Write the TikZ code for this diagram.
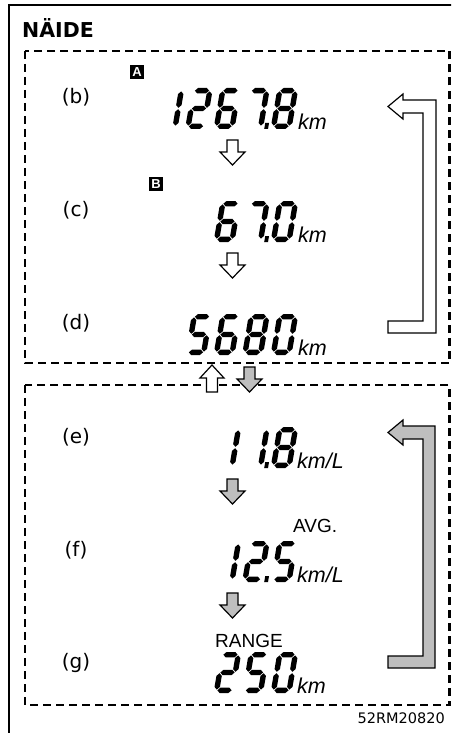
\documentclass[tikz,border=0pt]{standalone}
\usepackage{fontspec}
\setmainfont{DejaVu Sans}
\newfontfamily\arialf{Liberation Sans}
\definecolor{arrgray}{RGB}{190,190,190}
% seven-segment pieces, local coords: u right, v up, origin bottom-left of cell
\newcommand\lcdsega{\fill (3.4,38.3) -- (6.1,41) -- (14.9,41) -- (17.6,38.3) -- (14.9,35.6) -- (6.1,35.6) -- cycle;}
\newcommand\lcdsegd{\fill (3.4,2.7) -- (6.1,5.4) -- (14.9,5.4) -- (17.6,2.7) -- (14.9,0) -- (6.1,0) -- cycle;}
\newcommand\lcdsegg{\fill (3.4,20.5) -- (6.1,23.2) -- (14.9,23.2) -- (17.6,20.5) -- (14.9,17.8) -- (6.1,17.8) -- cycle;}
\newcommand\lcdsegb{\fill (18.3,21.2) -- (21,23.9) -- (21,34.9) -- (18.3,37.6) -- (15.6,34.9) -- (15.6,23.9) -- cycle;}
\newcommand\lcdsegc{\fill (18.3,3.4) -- (21,6.1) -- (21,17.1) -- (18.3,19.8) -- (15.6,17.1) -- (15.6,6.1) -- cycle;}
\newcommand\lcdsege{\fill (2.7,3.4) -- (5.4,6.1) -- (5.4,17.1) -- (2.7,19.8) -- (0,17.1) -- (0,6.1) -- cycle;}
\newcommand\lcdsegf{\fill (2.7,21.2) -- (5.4,23.9) -- (5.4,34.9) -- (2.7,37.6) -- (0,34.9) -- (0,23.9) -- cycle;}
\newcommand\lcdsegp{\fill (-6.3,0) -- (-2.5,0) -- (-2.5,6) -- (-6.3,6) -- cycle;}
\newcommand\lcddigit[3]{\begin{scope}[shift={(#1,#2)},xslant=0.17,yscale=-1]\foreach \s in {#3}{\csname lcdseg\s\endcsname}\end{scope}}
\newcommand\darrowshape[3]{\draw[#1] ({#2-5.5},#3) -- ({#2+5.5},#3) -- ({#2+5.5},{#3+12}) -- ({#2+12.5},{#3+12}) -- (#2,{#3+25}) -- ({#2-12.5},{#3+12}) -- ({#2-5.5},{#3+12}) -- cycle;}
\newcommand\uarrowshape[3]{\draw[#1] (#2,#3) -- ({#2+12},{#3+13}) -- ({#2+5.5},{#3+13}) -- ({#2+5.5},{#3+27}) -- ({#2-5.5},{#3+27}) -- ({#2-5.5},{#3+13}) -- ({#2-12},{#3+13}) -- cycle;}
\begin{document}
\begin{tikzpicture}[x=1pt,y=-1pt,
  dashbox/.style={line width=2.2pt,dash pattern=on 8pt off 5pt},
  warr/.style={draw=black,line width=1.2pt,fill=white,line join=miter},
  garr/.style={draw=black,line width=1.2pt,fill=arrgray,line join=miter},
  lbl/.style={inner sep=0pt,font=\fontsize{20}{24}\selectfont},
  unittext/.style={inner sep=0pt,anchor=base west,font=\arialf\itshape\fontsize{21.5}{24}\selectfont},
  captext/.style={inner sep=0pt,anchor=base west,font=\arialf\fontsize{19}{22}\selectfont},
  badgetext/.style={text=white,inner sep=0pt,font=\arialf\bfseries\fontsize{13}{14}\selectfont}]
\useasboundingbox (0,0) rectangle (451,733);
\clip (0,0) rectangle (451,733);
% outer frame
\draw[line width=2.4pt] (9,760) -- (9,5) -- (470,5);
\node[inner sep=0pt,anchor=base west,font=\bfseries\fontsize{20.5}{24}\selectfont] (title) at (22,38) {NÄIDE};
% dashed boxes
\draw[dashbox] (25,51) rectangle (449.5,363);
\draw[dashbox] (25,385) rectangle (449.5,705);
% labels
\node[lbl] (lb) at (76,97.5) {(b)};
\node[lbl] (lc) at (76,210.5) {(c)};
\node[lbl] (ld) at (76,323.5) {(d)};
\node[lbl] (le) at (76,437) {(e)};
\node[lbl] (lf) at (76,550) {(f)};
\node[lbl] (lg) at (76,663) {(g)};
\fill (130,65) rectangle (144,79);
\node[badgetext] (bA) at (137,72) {A};
\fill (149,177) rectangle (163,191);
\node[badgetext] (bB) at (156,184) {B};
% display b: 1267.8 km
\lcddigit{156.5}{129}{b,c}
\lcddigit{185}{129}{a,b,g,e,d}
\lcddigit{213.5}{129}{a,f,g,e,c,d}
\lcddigit{242}{129}{a,b,c}
\lcddigit{270.5}{129}{a,b,c,d,e,f,g,p}
\node[unittext] (ub) at (298,129) {km};
% display c: 67.0 km
\lcddigit{213.5}{242}{a,f,g,e,c,d}
\lcddigit{242}{242}{a,b,c}
\lcddigit{270.5}{242}{a,b,c,d,e,f,p}
\node[unittext] (uc) at (298,242) {km};
% display d: 5680 km
\lcddigit{185}{355}{a,f,g,c,d}
\lcddigit{213.5}{355}{a,f,g,e,c,d}
\lcddigit{242}{355}{a,b,c,d,e,f,g}
\lcddigit{270.5}{355}{a,b,c,d,e,f}
\node[unittext] (ud) at (298,355) {km};
% display e: 11.8 km/L
\lcddigit{213.5}{468}{b,c}
\lcddigit{242}{468}{b,c}
\lcddigit{270.5}{468}{a,b,c,d,e,f,g,p}
\node[unittext] (ue) at (297,468) {km/L};
% display f: 12.5 km/L
\node[captext] (avg) at (293,532) {AVG.};
\lcddigit{213.5}{582}{b,c}
\lcddigit{242}{582}{a,b,g,e,d}
\lcddigit{270.5}{582}{a,f,g,c,d,p}
\node[unittext] (uf) at (297,582) {km/L};
% display g: 250 km
\node[captext] (range) at (215,647) {RANGE};
\lcddigit{213.5}{693}{a,b,g,e,d}
\lcddigit{242}{693}{a,f,g,c,d}
\lcddigit{270.5}{693}{a,b,c,d,e,f}
\node[unittext] (ug) at (297,693) {km};
% small arrows
\darrowshape{warr}{232.5}{140}
\darrowshape{warr}{232.5}{253}
\darrowshape{garr}{232.5}{479}
\darrowshape{garr}{232.5}{593}
% between boxes
\uarrowshape{warr}{212}{365}
\darrowshape{garr}{249.5}{367}
% big bracket arrows
\draw[warr] (388,333) -- (436,333) -- (436,100) -- (403,100) -- (403,94) -- (388,106.5) -- (403,119) -- (403,113) -- (423,113) -- (423,321) -- (388,321) -- cycle;
\draw[garr] (388,668) -- (435,668) -- (435,426) -- (403,426) -- (403,420) -- (388,432.5) -- (403,445) -- (403,439) -- (423,439) -- (423,656) -- (388,656) -- cycle;
\node[inner sep=0pt,anchor=base east,font=\fontsize{14.5}{16}\selectfont] (code) at (445,723) {52RM20820};
\end{tikzpicture}
\end{document}
